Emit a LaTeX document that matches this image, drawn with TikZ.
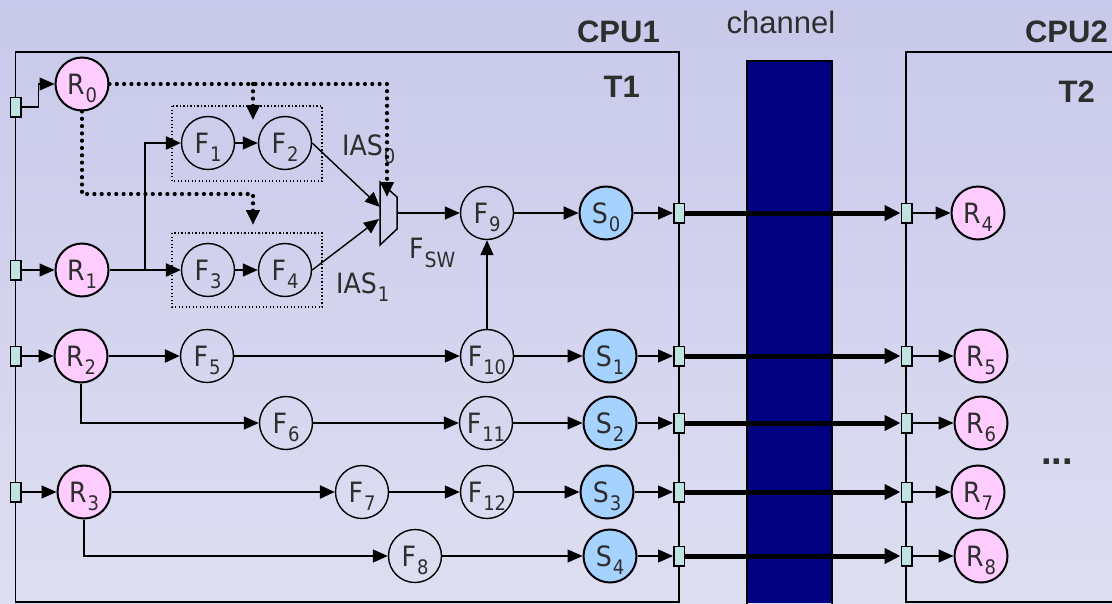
\documentclass[tikz,border=0pt]{standalone}
\usepackage{fontspec}
\IfFontExistsTF{DejaVu Sans Condensed}{\setmainfont{DejaVu Sans Condensed}}{\setmainfont{DejaVu Sans}}
\newfontfamily\arialf{Liberation Sans}
\usetikzlibrary{arrows.meta}
\definecolor{bgtop}{HTML}{C8C8EA}
\definecolor{bgbot}{HTML}{DEDEF2}
\definecolor{rpink}{HTML}{FFCCFF}
\definecolor{sblue}{HTML}{A6D2FF}
\definecolor{portc}{HTML}{BFE3E0}
\definecolor{navyc}{HTML}{000080}
\definecolor{txt}{HTML}{2E2E2E}
\newcommand\nlab[3][-8pt]{#2\hspace{1pt}\smash{\raisebox{#1}{\fontsize{20}{20}\selectfont #3}}}
\begin{document}
\begin{tikzpicture}[x=1pt,y=-1pt,
  >={Triangle[length=15pt,width=13pt]},
  every node/.style={text=txt},
  cnode/.style={circle,draw=black,inner sep=0pt,minimum size=53pt,font=\fontsize{28}{28}\selectfont},
  rnode/.style={cnode,fill=rpink,line width=2pt},
  snode/.style={cnode,fill=sblue,line width=2pt},
  fnode/.style={cnode,line width=1.4pt},
  port/.style={draw=black,fill=portc,line width=1.5pt,minimum width=10.5pt,minimum height=19.5pt,inner sep=0pt},
  lnthin/.style={line width=1.4pt},
  lnmid/.style={line width=2pt},
  lnthick/.style={line width=2.6pt},
  dotline/.style={line width=4.2pt,line cap=round,dash pattern=on 0pt off 7.3pt},
  dotbox/.style={line width=1.3pt,dash pattern=on 1.3pt off 2.2pt},
  chan/.style={line width=5pt,-{Triangle[length=16pt,width=15pt]}},
  lbl/.style={font=\fontsize{28}{28}\selectfont,inner sep=0pt},
  big/.style={font=\arialf\bfseries\fontsize{31}{31}\selectfont,inner sep=0pt},
  ]
\shade[top color=bgtop,bottom color=bgbot] (0,0) rectangle (1112,603);
\useasboundingbox (0,0) rectangle (1112,603);

% boxes and channel
\draw[line width=1.5pt] (15.5,52) rectangle (679,602);
\draw[line width=1.5pt] (1114,52) -- (906,52) -- (906,602) -- (1114,602);
\fill[navyc] (747,61) rectangle (832,603);
\draw[line width=1.5pt] (747,604) -- (747,61) -- (832,61) -- (832,604);

% titles
\node[big,anchor=base east] (cpu1) at (660,42) {CPU1};
\node[big,anchor=base east] (cpu2) at (1108,42) {CPU2};
\node[big,anchor=base east] (t1) at (640,97) {T1};
\node[big,anchor=base east] (t2) at (1095,102) {T2};
\node[font=\arialf\fontsize{31}{31}\selectfont,inner sep=0pt,anchor=base] (chl) at (781,33) {channel};
\node[font=\arialf\bfseries\fontsize{38}{38}\selectfont,inner sep=0pt,anchor=base] (ell) at (1057,464) {...};

% dotted groups
\draw[dotbox] (172,106) rectangle (322,181);
\draw[dotbox] (172,233) rectangle (322,307);
\node[lbl,anchor=base west] (ias0) at (342,155) {\nlab{IAS}{0}};
\node[lbl,anchor=base west] (ias1) at (336,293) {\nlab{IAS}{1}};
\node[lbl,anchor=base west] (fsw) at (409,258) {F\hspace{1pt}\smash{\raisebox{-9pt}{\fontsize{21}{21}\selectfont SW}}};

% mux
\draw[line width=1.5pt] (380,182) -- (397,197) -- (397,229) -- (380,245) -- cycle;
\coordinate (mux0) at (380,207);
\coordinate (mux1) at (379,219);
\coordinate (muxc) at (387,197);
\coordinate (muxo) at (397,213);

% ports
\foreach \n/\y in {0/107,1/270,2/356,3/492} \node[port] (pr\n) at (15.5,\y) {};
\foreach \n/\y in {0/213,1/356,2/423,3/492,4/556} {
  \node[port] (po\n) at (679,\y) {};
  \node[port] (pi\n) at (906.5,\y) {};
}

% nodes
\node[rnode] (R0) at (82,84) {\nlab{R}{0}};
\node[rnode] (R1) at (82,270) {\nlab{R}{1}};
\node[fnode] (F1) at (208,143) {\nlab{F}{1}};
\node[fnode] (F2) at (285,143) {\nlab{F}{2}};
\node[fnode] (F3) at (208,270) {\nlab{F}{3}};
\node[fnode] (F4) at (285,270) {\nlab{F}{4}};
\node[fnode] (F9) at (487,213) {\nlab{F}{9}};
\node[snode] (S0) at (606,213) {\nlab{S}{0}};
\node[rnode] (R2) at (81,356) {\nlab{R}{2}};
\node[fnode] (F5) at (207,356) {\nlab{F}{5}};
\node[fnode] (F10) at (487,356) {\nlab{F}{10}};
\node[snode] (S1) at (610,356) {\nlab{S}{1}};
\node[fnode] (F6) at (286,423) {\nlab{F}{6}};
\node[fnode] (F11) at (486,423) {\nlab{F}{11}};
\node[snode] (S2) at (610,423) {\nlab{S}{2}};
\node[rnode] (R3) at (84,492) {\nlab{R}{3}};
\node[fnode] (F7) at (362,492) {\nlab{F}{7}};
\node[fnode] (F12) at (487,492) {\nlab{F}{12}};
\node[snode] (S3) at (607,492) {\nlab{S}{3}};
\node[fnode] (F8) at (415,556) {\nlab{F}{8}};
\node[snode] (S4) at (610,556) {\nlab{S}{4}};
\node[rnode] (R4) at (978,213) {\nlab{R}{4}};
\node[rnode] (R5) at (981,356) {\nlab{R}{5}};
\node[rnode] (R6) at (981,423) {\nlab{R}{6}};
\node[rnode] (R7) at (978,492) {\nlab{R}{7}};
\node[rnode] (R8) at (981,556) {\nlab{R}{8}};

% dotted control lines
\coordinate (br1) at (253,84);
\coordinate (d1) at (253,120);
\coordinate (cr) at (387,84);
\coordinate (br2) at (253,194);
\coordinate (d2) at (253,225);
\draw[dotline,->] (R0.east) -- (cr) -- (muxc);
\draw[dotline,->] (br1) -- (d1);
\draw[dotline,->] (R0.south) |- (br2) -- (d2);

% solid connectors
\draw[lnthin,->] (pr0.east) -- ++(17,0) |- (R0.west);
\draw[lnthin,->] (pr1) -- (R1);
\coordinate (sp) at (145,270);
\draw[lnthick,->] (R1) -- (F3);
\draw[lnthick,->] (sp) |- (F1);
\draw[lnthin,->] (F1) -- (F2);
\draw[lnthin,->] (F3) -- (F4);
\draw[lnthin,->] (F2.east) -- (mux0);
\draw[lnthin,->] (F4.east) -- (mux1);
\draw[lnthin,->] (muxo) -- (F9);
\draw[lnmid,->] (F9) -- (S0);

\draw[lnthin,->] (pr2) -- (R2);
\draw[lnthick,->] (R2) -- (F5);
\draw[lnthin,->] (F5) -- (F10);
\draw[lnthin,->] (F10) -- (F9);
\draw[lnmid,->] (F10) -- (S1);
\draw[lnthin,->] (R2.south) |- (F6);
\draw[lnthin,->] (F6) -- (F11);
\draw[lnthin,->] (F11) -- (S2);

\draw[lnthin,->] (pr3) -- (R3);
\draw[lnthick,->] (R3) -- (F7);
\draw[lnthin,->] (F7) -- (F12);
\draw[lnthin,->] (F12) -- (S3);
\draw[lnthin,->] (R3.south) |- (F8);
\draw[lnthin,->] (F8) -- (S4);

\foreach \s/\n/\r in {S0/0/R4,S1/1/R5,S2/2/R6,S3/3/R7,S4/4/R8} {
  \draw[lnthin,->] (\s) -- (po\n);
  \draw[chan] (po\n) -- (pi\n);
  \draw[lnthin,->] (pi\n) -- (\r);
}
\end{tikzpicture}
\end{document}
